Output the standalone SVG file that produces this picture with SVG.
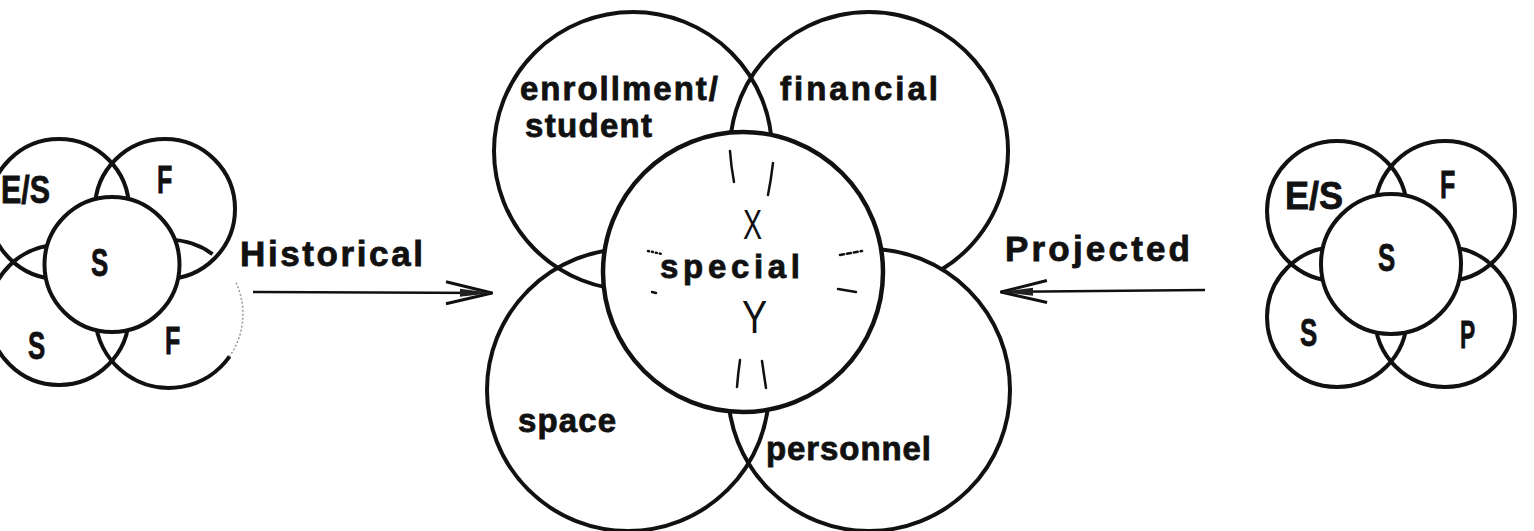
<svg xmlns="http://www.w3.org/2000/svg" width="1534" height="531" viewBox="0 0 1534 531">
<style>
.ring{fill:none;stroke:#111;stroke-width:4}
.core{fill:#fff;stroke:#111;stroke-width:4.5}
.small{fill:none;stroke:#111;stroke-width:4}
.smallcore{fill:#fff;stroke:#111;stroke-width:4}
.lbl{font-family:"Liberation Sans",Arial,sans-serif;font-weight:bold;font-size:33px;fill:#111;stroke:#111;stroke-width:0.8}
.big{font-family:"Liberation Sans",Arial,sans-serif;font-weight:bold;font-size:35px;fill:#111;stroke:#111;stroke-width:0.8}
.ltr{font-family:"Liberation Sans",Arial,sans-serif;font-weight:bold;font-size:38px;fill:#111;stroke:#111;stroke-width:0.8}
.thin{font-family:"Liberation Sans",Arial,sans-serif;font-weight:normal;fill:#111}
.mark{fill:none;stroke:#111;stroke-width:2.5;stroke-linecap:round}
.faint{fill:none;stroke:#999;stroke-width:1.5;stroke-dasharray:2 2}
.conn{fill:none;stroke:#111;stroke-width:2.5}
</style>
<defs>
<marker id="head" markerUnits="userSpaceOnUse" viewBox="0 0 50 26" refX="49" refY="13" markerWidth="50" markerHeight="26" orient="auto">
<path d="M2,2 L48,13 L2,24" fill="none" stroke="#111" stroke-width="3"/>
<path d="M16,9 L48,13 L16,17 Z" fill="#222"/>
</marker>
</defs>
<rect width="1534" height="531" fill="#fff"/>

<g id="historical-cluster">
<circle class="small" cx="59" cy="209" r="70"/>
<circle class="small" cx="165" cy="209" r="70"/>
<circle class="small" cx="59" cy="315" r="70"/>
<path class="small" d="M229.6,356.4 A74,74 0 1 1 212.5,254.1"/>
<path class="faint" d="M236,282.7 A74,74 0 0 1 229.6,356.4"/>
<circle class="smallcore" cx="112" cy="264.5" r="67.5"/>
<text class="ltr" transform="translate(1,203) scale(0.8,1)">E/S</text>
<text class="ltr" transform="translate(157,193) scale(0.66,1)">F</text>
<text class="ltr" transform="translate(91,276) scale(0.68,1)">S</text>
<text class="ltr" transform="translate(28,359) scale(0.68,1)">S</text>
<text class="ltr" transform="translate(165,354) scale(0.66,1)">F</text>
</g>

<g id="projected-cluster">
<circle class="small" cx="1337" cy="211" r="70"/>
<circle class="small" cx="1445" cy="211" r="70"/>
<circle class="small" cx="1337" cy="317" r="70"/>
<circle class="small" cx="1445" cy="317" r="70"/>
<circle class="smallcore" cx="1391" cy="264" r="70"/>
<text class="ltr" transform="translate(1285,209) scale(0.95,1)">E/S</text>
<text class="ltr" transform="translate(1440,198) scale(0.66,1)">F</text>
<text class="ltr" transform="translate(1378,271) scale(0.68,1)">S</text>
<text class="ltr" transform="translate(1300,346) scale(0.68,1)">S</text>
<text class="ltr" transform="translate(1460,348) scale(0.6,1)">P</text>
</g>

<g id="enrollment">
<circle class="ring" cx="633" cy="151" r="139"/>
<text class="lbl" x="520" y="100" textLength="198" lengthAdjust="spacing">enrollment/</text>
<text class="lbl" x="525" y="137" textLength="127" lengthAdjust="spacing">student</text>
</g>
<g id="financial">
<path class="ring" d="M942,269.3 A139,139 0 1 0 796,269.3"/>
<text class="lbl" x="780" y="100" textLength="158" lengthAdjust="spacing">financial</text>
</g>
<g id="space">
<circle class="ring" cx="628" cy="390" r="141"/>
<text class="lbl" x="518" y="432" textLength="98" lengthAdjust="spacing">space</text>
</g>
<g id="personnel">
<circle class="ring" cx="869" cy="390" r="141"/>
<text class="lbl" x="766" y="460" textLength="165" lengthAdjust="spacing">personnel</text>
</g>
<g id="special">
<circle class="core" cx="743" cy="272" r="140"/>
<path class="mark" d="M730,151 Q731,166 734,182"/>
<path class="mark" d="M773,163 Q771,180 768,195"/>
<path class="mark" d="M740,360 Q738,374 737,387"/>
<path class="mark" d="M762,361 Q764,375 766,388"/>
<path class="mark" d="M840,255 L862,251" stroke-width="1.5" stroke-dasharray="4 3"/>
<path class="mark" d="M838,289 L856,292" stroke-width="1.8"/>
<path class="mark" d="M648,251 L662,254" stroke-width="1" stroke-dasharray="1 3"/>
<path class="mark" d="M652,292 L656,293" stroke-width="1.5"/>
<text class="thin" transform="translate(743,239) scale(0.68,1)" font-size="42">X</text>
<text class="lbl" x="660" y="278" textLength="140" lengthAdjust="spacing">special</text>
<text class="thin" transform="translate(742,333) scale(0.82,1)" font-size="46">Y</text>
</g>

<g id="connectors">
<text class="big" x="240" y="266" textLength="183" lengthAdjust="spacing">Historical</text>
<line class="conn" x1="253" y1="292" x2="493" y2="293" marker-end="url(#head)"/>
<text class="big" x="1005" y="261" textLength="185" lengthAdjust="spacing">Projected</text>
<line class="conn" x1="1205" y1="290" x2="1000" y2="292" marker-end="url(#head)"/>
</g>
</svg>
